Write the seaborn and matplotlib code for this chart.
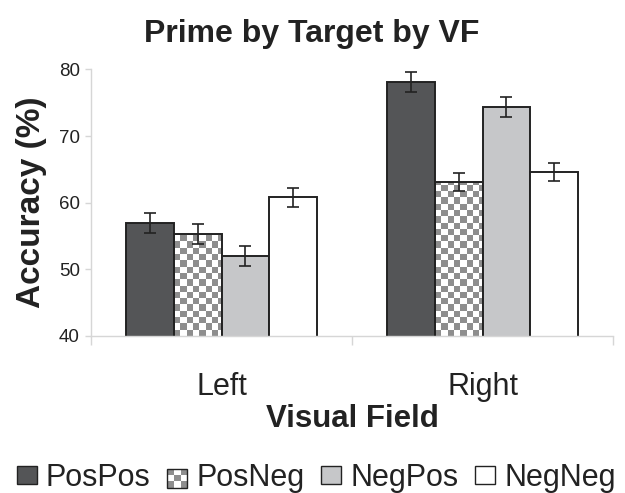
import numpy as np
import pandas as pd
import seaborn as sns
import matplotlib
matplotlib.use("Agg")
import matplotlib.pyplot as plt
from matplotlib.patches import Rectangle, Patch
from matplotlib.ticker import FixedLocator

# data
categories = ["Left", "Right"]
series = ["PosPos", "PosNeg", "NegPos", "NegNeg"]
pospos = [57.0, 78.1]
posneg = [55.3, 63.1]
negpos = [52.0, 74.3]
negneg = [60.8, 64.6]
err_pospos = [1.5, 1.5]
err_posneg = [1.5, 1.4]
err_negpos = [1.5, 1.5]
err_negneg = [1.4, 1.4]

colors = ["#545557", "#ffffff", "#c6c7c9", "#ffffff"]
checker_grey = "#8e8e8e"
edge = "#222222"

rows = []
for name, vals in zip(series, [pospos, posneg, negpos, negneg]):
    for cat, v in zip(categories, vals):
        rows.append({"VF": cat, "Cond": name, "Acc": v})
df = pd.DataFrame(rows)
errs = [err_pospos, err_posneg, err_negpos, err_negneg]

sns.set_style("white")
plt.rcParams["font.family"] = ["Liberation Sans", "DejaVu Sans"]

fig = plt.figure(figsize=(6.25, 4.93), dpi=100)
ax = fig.add_axes([91 / 625, 1 - 336 / 493, 522 / 625, 266.5 / 493])

sns.barplot(data=df, x="VF", y="Acc", hue="Cond", order=categories,
            hue_order=series, palette=colors, width=0.73, errorbar=None,
            edgecolor=edge, linewidth=1.4, saturation=1, legend=False, ax=ax)

ax.set_ylim(40, 80)
ax.set_xlim(-0.5, 1.5)
ax.set_yticks([40, 50, 60, 70, 80])

# checkerboard fill for PosNeg bars
cell_px = 6.3
ax_w_px = 522.0
ax_h_px = 266.5
cx = cell_px * 2.0 / ax_w_px
cy = cell_px * 40.0 / ax_h_px
for bar in ax.containers[1]:
    x0 = bar.get_x()
    w = bar.get_width()
    h = bar.get_height()
    ncol = int(np.ceil(w / cx)) + 1
    nrow = int(np.ceil((h - 40) / cy)) + 1
    grid = (np.indices((nrow, ncol)).sum(axis=0) % 2).astype(float)
    img = np.where(grid[..., None] > 0, [1.0, 1.0, 1.0],
                   [0x8e / 255, 0x8e / 255, 0x8e / 255])
    im = ax.imshow(img, extent=[x0, x0 + ncol * cx, 40 + nrow * cy, 40],
                   interpolation="nearest", aspect="auto",
                   zorder=bar.get_zorder() - 0.05)
    im.set_clip_path(bar)
    bar.set_facecolor("none")
ax.set_xlim(-0.5, 1.5)
ax.set_ylim(40, 80)

# error bars at bar centres
for cont, e in zip(ax.containers, errs):
    xs = [b.get_x() + b.get_width() / 2 for b in cont]
    ys = [b.get_height() for b in cont]
    ax.errorbar(xs, ys, yerr=e, fmt="none", ecolor=edge, elinewidth=1.2,
                capsize=4.5, capthick=1.2, zorder=5)

# axes styling
for s in ["top", "right"]:
    ax.spines[s].set_visible(False)
for s in ["left", "bottom"]:
    ax.spines[s].set_color("#d6d6d6")
    ax.spines[s].set_linewidth(1.0)
ax.tick_params(axis="y", which="major", left=True, length=4, width=1.0,
               color="#d6d6d6", pad=4, labelsize=13.5, labelcolor="#222222")
ax.tick_params(axis="x", which="major", bottom=False, length=0, pad=26,
               labelsize=22, labelcolor="#222222")
ax.xaxis.set_minor_locator(FixedLocator([-0.5, 0.5, 1.5]))
ax.tick_params(axis="x", which="minor", bottom=True, length=6.5, width=1.0,
               color="#d6d6d6")

ax.set_xlabel("Visual Field", fontsize=22.5, fontweight="bold", color="#222222")
ax.xaxis.set_label_coords(0.5, -0.255)
ax.set_ylabel("Accuracy (%)", fontsize=24, fontweight="bold", color="#222222")
ax.yaxis.set_label_coords(-0.085, 0.5)

fig.text(0.498, 1 - 42 / 493, "Prime by Target by VF", ha="center",
         va="baseline", fontsize=23, fontweight="bold", color="#222222")


# legend with a checker handle
class HandlerChecker:
    def legend_artist(self, legend, orig_handle, fontsize, handlebox):
        x0, y0 = handlebox.xdescent, handlebox.ydescent
        w, h = handlebox.width, handlebox.height
        n = 3
        for i in range(n):
            for j in range(n):
                c = checker_grey if (i + j) % 2 == 0 else "white"
                r = Rectangle((x0 + i * w / n, y0 + j * h / n), w / n, h / n,
                              facecolor=c, edgecolor="none",
                              transform=handlebox.get_transform())
                handlebox.add_artist(r)
        outline = Rectangle((x0, y0), w, h, facecolor="none", edgecolor=edge,
                            linewidth=1.0, transform=handlebox.get_transform())
        handlebox.add_artist(outline)
        return outline


handles = [Patch(facecolor=c, edgecolor=edge, linewidth=1.0) for c in colors]
leg = fig.legend(handles, series, loc="center", ncol=4,
                 bbox_to_anchor=(0.506, 1 - 478 / 493), frameon=False,
                 fontsize=22, handlelength=0.65, handleheight=0.55,
                 handletextpad=0.3, columnspacing=0.55, borderpad=0,
                 handler_map={handles[1]: HandlerChecker()})
for t in leg.get_texts():
    t.set_color("#222222")

fig.savefig("out.png", dpi=100)
